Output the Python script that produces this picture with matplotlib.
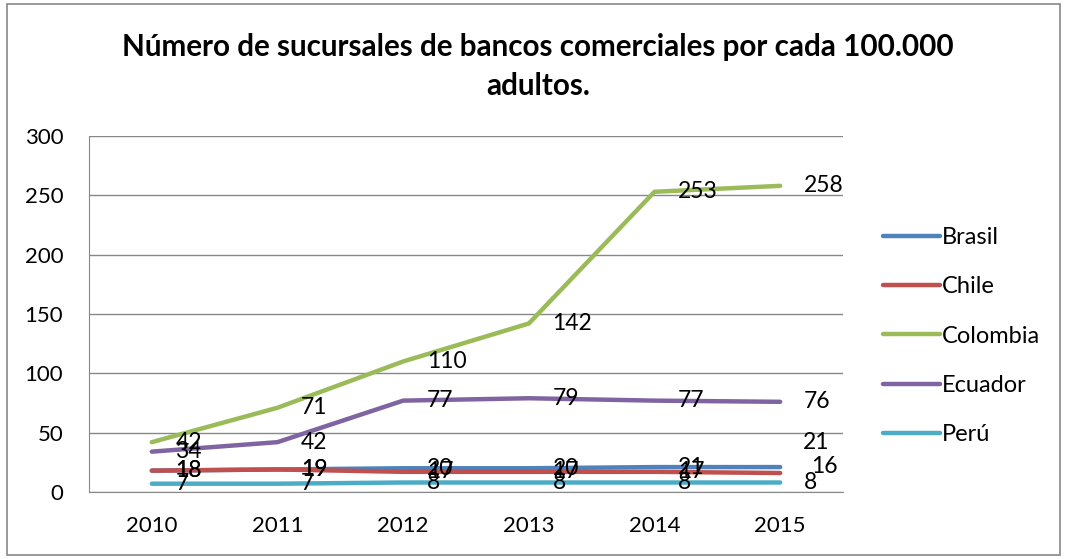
import matplotlib
matplotlib.use("Agg")
import matplotlib.pyplot as plt
from matplotlib.patches import Rectangle

years = ["2010", "2011", "2012", "2013", "2014", "2015"]
series_names = ["Brasil", "Chile", "Colombia", "Ecuador", "Perú"]
brasil = [18, 19, 20, 20, 21, 21]
chile = [18, 19, 17, 17, 17, 16]
colombia = [42, 71, 110, 142, 253, 258]
ecuador = [34, 42, 77, 79, 77, 76]
peru = [7, 7, 8, 8, 8, 8]
colors = ["#4F81BD", "#C0504D", "#9BBB59", "#8064A2", "#4BACC6"]
yticks = [0, 50, 100, 150, 200, 250, 300]

plt.rcParams['font.family'] = ['Lato', 'DejaVu Sans']

fig = plt.figure(figsize=(10.65, 5.59), dpi=100)
fig.patches.append(Rectangle((7/1065, 4/559), 1053/1065, 551/559, transform=fig.transFigure,
                             fill=False, edgecolor="#888888", linewidth=1.2))
ax = fig.add_axes([89/1065, 67/559, 754/1065, 356/559])

x = list(range(len(years)))
data = [brasil, chile, colombia, ecuador, peru]
# label offsets (points) for the last category, where the reference spreads the labels
last_offsets = {"Brasil": (16, 18), "Chile": (22, 4.5), "Perú": (17, 0)}
for name, vals, c in zip(series_names, data, colors):
    ax.plot(x, vals, color=c, linewidth=3.2, label=name, solid_capstyle="round")
for name, vals, c in zip(series_names, data, colors):
    for xi, v in zip(x, vals):
        off = (17, 0)
        if xi == len(years) - 1 and name in last_offsets:
            off = last_offsets[name]
        ax.annotate(str(v), (xi, v), xytext=off, textcoords="offset points",
                    ha="left", va="center", fontsize=16.5, color="black")

ax.set_xlim(-0.5, len(years) - 0.5)
ax.set_ylim(0, 300)
ax.set_yticks(yticks)
ax.set_xticks(x)
ax.set_xticklabels(years)
ax.grid(axis="y", color="#888888", linewidth=1)
ax.set_axisbelow(True)
for s in ["top", "right"]:
    ax.spines[s].set_visible(False)
ax.spines["left"].set_color("#888888")
ax.spines["bottom"].set_color("#888888")
ax.tick_params(axis="both", length=0, labelsize=16)
ax.tick_params(axis="y", pad=18.5)
ax.tick_params(axis="x", pad=17)

fig.text(538/1065, 1 - 47/559, "Número de sucursales de bancos comerciales por cada 100.000",
         ha="center", va="center", fontsize=21.3, fontweight="bold")
fig.text(538/1065, 1 - 86/559, "adultos.", ha="center", va="center", fontsize=21.3, fontweight="bold")

leg = fig.legend(loc="upper left", bbox_to_anchor=(876/1065, 1 - 220/559), frameon=False,
                 fontsize=17, handlelength=2.4, handletextpad=0.1, labelspacing=1.2,
                 borderaxespad=0, borderpad=0.3)
for h in leg.legend_handles:
    h.set_linewidth(3.2)

fig.savefig("out.png", dpi=100)
